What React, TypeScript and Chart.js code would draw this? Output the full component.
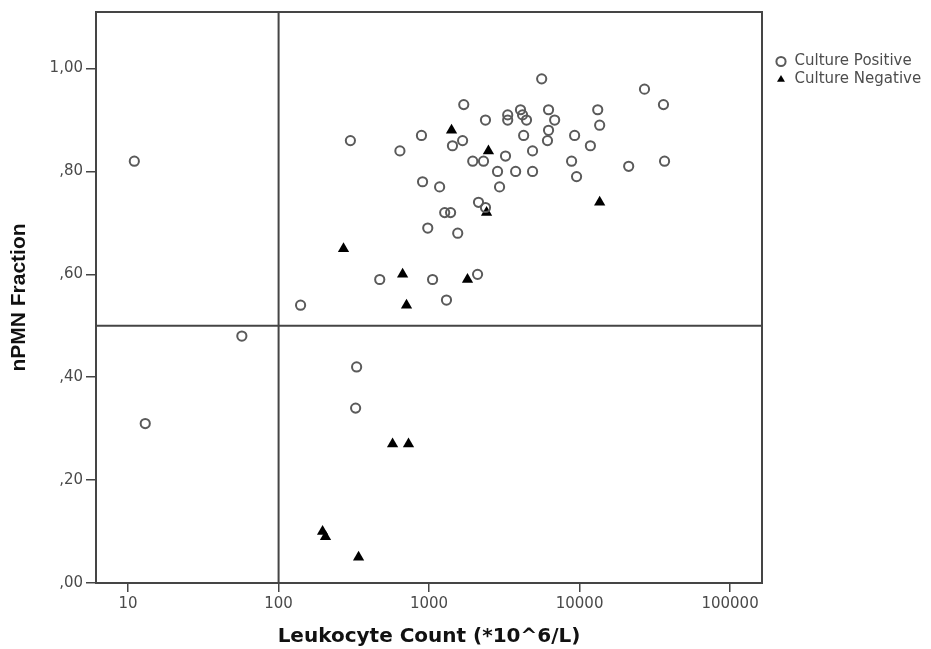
import React, { useEffect, useRef } from 'react';
import { Chart, registerables } from 'chart.js';

Chart.register(...registerables);

// ---- data ----
const seriesNames = ['Culture Positive', 'Culture Negative'];

const positiveX = [
  11, 13, 57, 300, 140, 330, 325, 640, 890, 1700, 2370, 1430, 1670, 1950, 2300,
  3220, 2850, 3760, 2940, 905, 1175, 1270, 1390, 2130, 2370, 980, 1550, 1055,
  2100, 1305, 470, 5600, 3330, 3330, 4050, 4180, 4440, 4250, 6220, 6830, 6220,
  6120, 4870, 4870, 9270, 13200, 13600, 11800, 8850, 9550, 27000, 36100, 21200,
  36700,
];
const positiveY = [
  0.82, 0.31, 0.48, 0.86, 0.54, 0.42, 0.34, 0.84, 0.87, 0.93, 0.9, 0.85, 0.86,
  0.82, 0.82, 0.83, 0.8, 0.8, 0.77, 0.78, 0.77, 0.72, 0.72, 0.74, 0.73, 0.69,
  0.68, 0.59, 0.6, 0.55, 0.59, 0.98, 0.91, 0.9, 0.92, 0.91, 0.9, 0.87, 0.92,
  0.9, 0.88, 0.86, 0.84, 0.8, 0.87, 0.92, 0.89, 0.85, 0.82, 0.79, 0.96, 0.93,
  0.81, 0.82,
];

const negativeX = [1410, 2480, 2410, 13600, 270, 667, 708, 1800, 572, 730, 196, 205, 340];
const negativeY = [0.88, 0.84, 0.72, 0.74, 0.65, 0.6, 0.54, 0.59, 0.27, 0.27, 0.1, 0.09, 0.05];

const xTickValues = [10, 100, 1000, 10000, 100000];
const xTickLabels = ['10', '100', '1000', '10000', '100000'];
const yTickValues = [0, 0.2, 0.4, 0.6, 0.8, 1.0];
const yTickLabels = [',00', ',20', ',40', ',60', ',80', '1,00'];

const xRange = [6.12, 163000];
const yRange = [0, 1.11];
const cutoffX = 100;
const cutoffY = 0.5;

const xTitle = 'Leukocyte Count (*10^6/L)';
const yTitle = 'nPMN Fraction';

// ---- styling / layout constants ----
const W = 931;
const H = 649;
const AXIS_COLOR = '#454545';
const LEGEND_WIDTH = 169;
const LEGEND_SHIFT = 10;

const framePlugin = {
  id: 'frameAndCutoffs',
  beforeDatasetsDraw(chart: any) {
    const { ctx, chartArea, scales } = chart;
    const { left, right, top, bottom } = chartArea;
    ctx.save();
    ctx.strokeStyle = AXIS_COLOR;
    ctx.lineWidth = 2;
    ctx.strokeRect(left, top, right - left, bottom - top);
    const px = scales.x.getPixelForValue(cutoffX);
    const py = scales.y.getPixelForValue(cutoffY);
    ctx.beginPath();
    ctx.moveTo(px, top);
    ctx.lineTo(px, bottom);
    ctx.moveTo(left, py);
    ctx.lineTo(right, py);
    ctx.stroke();
    ctx.restore();
  },
};

const legendFixPlugin = {
  id: 'legendFix',
  beforeLayout(chart: any) {
    const lg = chart.legend;
    if (lg && !lg.__fixed) {
      const orig = lg.fit.bind(lg);
      lg.fit = function () {
        orig();
        this.width = LEGEND_WIDTH;
      };
      lg.__fixed = true;
    }
  },
  afterLayout(chart: any) {
    const lg = chart.legend;
    if (lg) {
      lg.left += LEGEND_SHIFT;
      lg.right += LEGEND_SHIFT;
    }
  },
};

export default function App() {
  const canvasRef = useRef<HTMLCanvasElement | null>(null);

  useEffect(() => {
    const canvas = canvasRef.current;
    if (!canvas) return;
    const chart = new Chart(canvas, {
      type: 'scatter',
      data: {
        datasets: [
          {
            label: seriesNames[0],
            data: positiveX.map((x, i) => ({ x, y: positiveY[i] })),
            pointStyle: 'circle',
            pointRadius: 4.6,
            pointBorderWidth: 2,
            pointBorderColor: '#5a5a5a',
            pointBackgroundColor: 'rgba(255,255,255,0)',
            borderColor: '#5a5a5a',
            backgroundColor: 'rgba(255,255,255,0)',
            borderWidth: 2,
          },
          {
            label: seriesNames[1],
            data: negativeX.map((x, i) => ({ x, y: negativeY[i] })),
            pointStyle: 'triangle',
            pointRadius: 6.5,
            pointBorderWidth: 0,
            pointBorderColor: '#000000',
            pointBackgroundColor: '#000000',
            borderColor: '#000000',
            backgroundColor: '#000000',
            borderWidth: 0,
          },
        ],
      } as any,
      options: {
        animation: false,
        responsive: false,
        devicePixelRatio: 1,
        layout: { padding: { top: 10, left: 0, right: 0, bottom: 0 } },
        plugins: {
          tooltip: { enabled: false },
          legend: {
            position: 'right',
            align: 'start',
            title: {
              display: true,
              text: ' ',
              font: { size: 10, lineHeight: 1 },
              padding: { top: 0, bottom: 31 },
            },
            labels: {
              usePointStyle: true,
              boxWidth: 12,
              boxHeight: 6.5,
              padding: 3,
              color: '#4d4d4d',
              font: { family: 'DejaVu Sans', size: 15 },
            },
          },
        },
        scales: {
          x: {
            type: 'logarithmic',
            position: 'bottom',
            min: xRange[0],
            max: xRange[1],
            afterBuildTicks: (scale: any) => {
              scale.ticks = xTickValues.map((v) => ({ value: v }));
            },
            afterFit: (scale: any) => {
              scale.height = 66;
            },
            border: { display: false },
            grid: {
              display: true,
              drawOnChartArea: false,
              drawTicks: true,
              tickLength: 9,
              color: AXIS_COLOR,
              lineWidth: 1.5,
            },
            ticks: {
              autoSkip: false,
              maxRotation: 0,
              padding: 3,
              color: '#4a4a4a',
              font: { family: 'DejaVu Sans', size: 15 },
              callback: (_v: any, i: number) => xTickLabels[i],
            },
            title: {
              display: true,
              text: xTitle,
              color: '#111111',
              font: { family: 'DejaVu Sans', size: 20, weight: 'bold', lineHeight: 1.2 },
              padding: { top: 0, bottom: 0 },
            },
          },
          y: {
            type: 'linear',
            position: 'left',
            min: yRange[0],
            max: yRange[1],
            afterBuildTicks: (scale: any) => {
              scale.ticks = yTickValues.map((v) => ({ value: v }));
            },
            afterFit: (scale: any) => {
              scale.width = 96;
            },
            border: { display: false },
            grid: {
              display: true,
              drawOnChartArea: false,
              drawTicks: true,
              tickLength: 10,
              color: AXIS_COLOR,
              lineWidth: 1.5,
            },
            ticks: {
              autoSkip: false,
              padding: 3,
              color: '#4a4a4a',
              font: { family: 'DejaVu Sans', size: 15 },
              callback: (_v: any, i: number) => yTickLabels[i],
            },
            title: {
              display: true,
              text: yTitle,
              color: '#111111',
              font: { family: 'Liberation Sans', size: 21, weight: 'bold', lineHeight: 1.2 },
              padding: { top: 7, bottom: 0 },
            },
          },
        },
      } as any,
      plugins: [framePlugin, legendFixPlugin] as any,
    });
    return () => chart.destroy();
  }, []);

  return (
    <div style={{ position: 'fixed', left: 0, top: 0, width: W, height: H, background: '#ffffff' }}>
      <canvas ref={canvasRef} width={W} height={H} style={{ display: 'block' }} />
    </div>
  );
}
